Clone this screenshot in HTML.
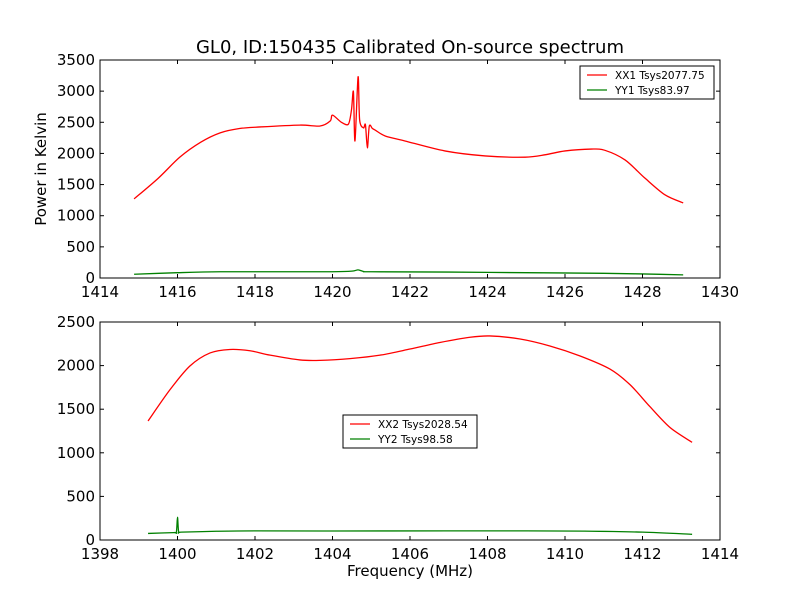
<!DOCTYPE html>
<html><head><meta charset="utf-8"><style>
body{margin:0;background:#fff}
svg{font-family:"DejaVu Sans","Liberation Sans",sans-serif}
</style></head><body>
<svg id="c" width="800" height="600" viewBox="0 0 800 600">
<rect width="800" height="600" fill="#fff"/>
<text x="410" y="53" font-size="18" text-anchor="middle">GL0, ID:150435 Calibrated On-source spectrum</text>
<text x="46" y="169" font-size="15" text-anchor="middle" transform="rotate(-90 46 169)">Power in Kelvin</text>
<text x="410" y="576" font-size="15" text-anchor="middle">Frequency (MHz)</text>
</svg>
<script>
const topXXf=[1414.88,1415.5,1416.06,1416.6,1417.1,1417.6,1418.13,1419.16,1419.68,1419.94,1420.0,1420.23,1420.41,1420.49,1420.54,1420.58,1420.66,1420.7,1420.8,1420.85,1420.9,1420.95,1421.03,1421.1,1421.36,1421.87,1422.9,1423.94,1424.97,1425.5,1426.0,1426.68,1427.03,1427.55,1428.06,1428.58,1429.05];
const topXXv=[1270,1600,1940,2180,2330,2400,2425,2455,2440,2520,2615,2500,2470,2700,2990,2200,3230,2540,2410,2460,2090,2440,2400,2375,2280,2200,2040,1960,1940,1980,2040,2070,2050,1895,1605,1335,1205];
const topYYf=[1414.88,1416.0,1417.1,1419.0,1420.0,1420.5,1420.66,1420.8,1421.0,1423.0,1425.0,1427.0,1428.0,1429.05];
const topYYv=[60,85,100,100,100,110,130,105,100,95,85,75,65,50];
const botXXf=[1399.24,1399.8,1400.32,1400.84,1401.35,1401.87,1402.39,1403.16,1403.68,1404.45,1405.23,1406.0,1406.77,1407.55,1408.06,1408.84,1409.61,1410.39,1411.16,1411.68,1412.19,1412.71,1413.28];
const botXXv=[1365,1720,1995,2145,2185,2170,2120,2065,2060,2080,2120,2190,2265,2325,2340,2305,2225,2110,1960,1780,1530,1290,1120];
const botYYf=[1399.24,1399.9,1399.97,1400.0,1400.03,1400.1,1401.0,1402.0,1404.0,1407.0,1409.0,1410.5,1412.0,1413.28];
const botYYv=[75,85,88,260,90,90,100,105,103,105,105,102,90,65];
const topXTicks=[1414,1416,1418,1420,1422,1424,1426,1428,1430];
const topYTicks=[0,500,1000,1500,2000,2500,3000,3500];
const botXTicks=[1398,1400,1402,1404,1406,1408,1410,1412,1414];
const botYTicks=[0,500,1000,1500,2000,2500];
const svg=document.getElementById('c');const NS='http://www.w3.org/2000/svg';
function mk(t,a){const e=document.createElementNS(NS,t);for(const k in a)e.setAttribute(k,a[k]);svg.appendChild(e);return e;}
function smooth(pts){let d='M'+pts[0][0]+','+pts[0][1];
 for(let i=0;i<pts.length-1;i++){const p0=pts[Math.max(0,i-1)],p1=pts[i],p2=pts[i+1],p3=pts[Math.min(pts.length-1,i+2)];
  const t=0.15;
  d+=' C'+(p1[0]+(p2[0]-p0[0])*t)+','+(p1[1]+(p2[1]-p0[1])*t)+' '+(p2[0]-(p3[0]-p1[0])*t)+','+(p2[1]-(p3[1]-p1[1])*t)+' '+p2[0]+','+p2[1];}
 return d;}
function panel(name,L,T,W,H,x0,x1,ymax,xt,yt,series,leg){
 const sx=v=>L+(v-x0)/(x1-x0)*W, sy=v=>T+H-v/ymax*H;
 series.forEach(s=>{const p=mk('path',{d:smooth(s.f.map((f,i)=>[sx(f),sy(s.v[i])])),fill:'none',stroke:s.c,'stroke-width':1.3});
  
  });
 const r=mk('rect',{x:L,y:T,width:W,height:H,fill:'none',stroke:'#000'});
 
 
 xt.forEach(v=>{const x=sx(v);mk('line',{x1:x,x2:x,y1:T+H,y2:T+H-4,stroke:'#000'});mk('line',{x1:x,x2:x,y1:T,y2:T+4,stroke:'#000'});
  const t=mk('text',{x:x,y:T+H+19,'font-size':15,'text-anchor':'middle'});t.textContent=v;
  
  });
 yt.forEach(v=>{const y=sy(v);mk('line',{x1:L,x2:L+4,y1:y,y2:y,stroke:'#000'});mk('line',{x1:L+W,x2:L+W-4,y1:y,y2:y,stroke:'#000'});
  const t=mk('text',{x:L-5,y:y+5,'font-size':15,'text-anchor':'end'});t.textContent=v;
  
  });
 const g=mk('rect',{x:leg.x,y:leg.y,width:134,height:33,fill:'#fff',stroke:'#000'});
 
 
 series.forEach((s,i)=>{const y=leg.y+9+i*15;mk('line',{x1:leg.x+7,x2:leg.x+27,y1:y,y2:y,stroke:s.c,'stroke-width':1.2});
  const t=mk('text',{x:leg.x+35,y:y+4,'font-size':10.5});t.textContent=s.label;
  
  });
}
panel('top-panel',100,60,620,218,1414,1430,3500,topXTicks,topYTicks,
 [{n:'xx1',f:topXXf,v:topXXv,c:'#ff0000',label:'XX1 Tsys2077.75'},{n:'yy1',f:topYYf,v:topYYv,c:'#008000',label:'YY1 Tsys83.97'}],{x:580,y:66});
panel('bottom-panel',100,322,620,218,1398,1414,2500,botXTicks,botYTicks,
 [{n:'xx2',f:botXXf,v:botXXv,c:'#ff0000',label:'XX2 Tsys2028.54'},{n:'yy2',f:botYYf,v:botYYv,c:'#008000',label:'YY2 Tsys98.58'}],{x:343,y:415});
</script>
</body></html>
